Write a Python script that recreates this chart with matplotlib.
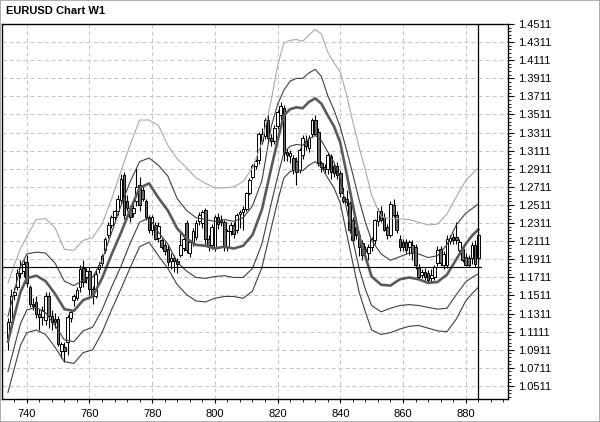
import matplotlib
matplotlib.use("Agg")
import matplotlib.pyplot as plt
from matplotlib.patches import Rectangle
from matplotlib.ticker import FixedLocator, AutoMinorLocator

plt.rcParams['font.family'] = ['Liberation Sans', 'DejaVu Sans']

# weekly EURUSD candles, bars 734..884
first_bar = 734
opens = [1.104, 1.122, 1.152, 1.160, 1.176, 1.178, 1.188, 1.160, 1.142, 1.144,
         1.131, 1.127, 1.124, 1.150, 1.128, 1.125, 1.125, 1.090, 1.094, 1.100,
         1.126, 1.146, 1.148, 1.160, 1.182, 1.172, 1.178, 1.158, 1.150, 1.180,
         1.187, 1.201, 1.218, 1.229, 1.238, 1.244, 1.257, 1.284, 1.255, 1.248,
         1.242, 1.256, 1.273, 1.268, 1.255, 1.238, 1.224, 1.229, 1.215, 1.212,
         1.207, 1.202, 1.189, 1.193, 1.189, 1.196, 1.204, 1.231, 1.198, 1.210,
         1.216, 1.233, 1.231, 1.246, 1.213, 1.207, 1.205, 1.238, 1.235, 1.232,
         1.205, 1.222, 1.229, 1.223, 1.241, 1.243, 1.247, 1.264, 1.282, 1.294,
         1.301, 1.322, 1.327, 1.345, 1.325, 1.322, 1.338, 1.350, 1.358, 1.310,
         1.305, 1.303, 1.300, 1.290, 1.306, 1.322, 1.314, 1.330, 1.345, 1.332,
         1.297, 1.293, 1.291, 1.305, 1.294, 1.294, 1.286, 1.260, 1.258, 1.253,
         1.234, 1.227, 1.218, 1.209, 1.203, 1.198, 1.205, 1.212, 1.233, 1.245,
         1.238, 1.227, 1.218, 1.251, 1.240, 1.214, 1.210, 1.210, 1.205, 1.207,
         1.205, 1.181, 1.174, 1.177, 1.176, 1.170, 1.172, 1.187, 1.203, 1.185,
         1.185, 1.211, 1.216, 1.216, 1.201, 1.203, 1.194, 1.192, 1.192, 1.207,
         1.192]
highs = [1.126, 1.158, 1.160, 1.180, 1.190, 1.190, 1.196, 1.163, 1.148, 1.150,
         1.136, 1.140, 1.155, 1.155, 1.135, 1.132, 1.128, 1.100, 1.100, 1.130,
         1.136, 1.153, 1.160, 1.185, 1.190, 1.182, 1.183, 1.162, 1.180, 1.188,
         1.197, 1.216, 1.232, 1.240, 1.246, 1.262, 1.285, 1.288, 1.262, 1.250,
         1.252, 1.292, 1.282, 1.272, 1.258, 1.240, 1.240, 1.232, 1.232, 1.215,
         1.210, 1.207, 1.198, 1.196, 1.192, 1.220, 1.218, 1.234, 1.212, 1.226,
         1.234, 1.243, 1.246, 1.248, 1.218, 1.230, 1.240, 1.242, 1.240, 1.234,
         1.225, 1.232, 1.232, 1.242, 1.246, 1.250, 1.266, 1.281, 1.296, 1.302,
         1.332, 1.336, 1.347, 1.350, 1.330, 1.340, 1.356, 1.365, 1.362, 1.313,
         1.312, 1.306, 1.304, 1.314, 1.328, 1.328, 1.328, 1.347, 1.350, 1.336,
         1.300, 1.296, 1.308, 1.307, 1.296, 1.299, 1.290, 1.271, 1.268, 1.256,
         1.238, 1.232, 1.222, 1.212, 1.206, 1.208, 1.216, 1.236, 1.248, 1.250,
         1.242, 1.230, 1.256, 1.258, 1.244, 1.218, 1.213, 1.214, 1.212, 1.212,
         1.208, 1.186, 1.180, 1.182, 1.179, 1.180, 1.185, 1.206, 1.206, 1.200,
         1.218, 1.218, 1.220, 1.232, 1.214, 1.206, 1.198, 1.196, 1.210, 1.212,
         1.221]
lows = [1.091, 1.118, 1.146, 1.157, 1.170, 1.172, 1.160, 1.138, 1.135, 1.126,
        1.113, 1.118, 1.118, 1.115, 1.113, 1.115, 1.095, 1.082, 1.078, 1.085,
        1.122, 1.140, 1.146, 1.155, 1.160, 1.165, 1.152, 1.142, 1.148, 1.176,
        1.184, 1.198, 1.215, 1.226, 1.234, 1.240, 1.252, 1.236, 1.245, 1.232,
        1.238, 1.250, 1.245, 1.255, 1.235, 1.220, 1.218, 1.212, 1.210, 1.203,
        1.196, 1.184, 1.180, 1.177, 1.176, 1.194, 1.200, 1.198, 1.194, 1.206,
        1.212, 1.229, 1.226, 1.208, 1.200, 1.203, 1.200, 1.225, 1.228, 1.200,
        1.200, 1.218, 1.215, 1.220, 1.226, 1.224, 1.245, 1.262, 1.280, 1.291,
        1.296, 1.318, 1.324, 1.320, 1.316, 1.318, 1.335, 1.345, 1.300, 1.300,
        1.298, 1.285, 1.273, 1.286, 1.302, 1.312, 1.310, 1.326, 1.328, 1.294,
        1.288, 1.286, 1.285, 1.280, 1.282, 1.280, 1.260, 1.253, 1.250, 1.220,
        1.208, 1.214, 1.195, 1.190, 1.192, 1.190, 1.200, 1.208, 1.228, 1.232,
        1.222, 1.214, 1.216, 1.238, 1.220, 1.200, 1.200, 1.198, 1.196, 1.190,
        1.180, 1.168, 1.170, 1.168, 1.165, 1.166, 1.168, 1.184, 1.184, 1.180,
        1.182, 1.208, 1.208, 1.208, 1.198, 1.188, 1.184, 1.183, 1.186, 1.183,
        1.188]
closes = [1.122, 1.150, 1.155, 1.176, 1.183, 1.186, 1.165, 1.142, 1.140, 1.131,
          1.127, 1.135, 1.150, 1.128, 1.122, 1.122, 1.098, 1.098, 1.090, 1.127,
          1.133, 1.150, 1.157, 1.180, 1.166, 1.178, 1.158, 1.150, 1.175, 1.185,
          1.195, 1.214, 1.229, 1.238, 1.244, 1.258, 1.280, 1.240, 1.248, 1.238,
          1.248, 1.271, 1.251, 1.258, 1.238, 1.224, 1.238, 1.214, 1.228, 1.205,
          1.200, 1.188, 1.193, 1.189, 1.186, 1.207, 1.214, 1.201, 1.210, 1.222,
          1.231, 1.240, 1.243, 1.213, 1.206, 1.227, 1.238, 1.230, 1.232, 1.205,
          1.222, 1.229, 1.219, 1.240, 1.243, 1.247, 1.264, 1.279, 1.294, 1.300,
          1.330, 1.330, 1.345, 1.325, 1.322, 1.336, 1.354, 1.361, 1.308, 1.306,
          1.309, 1.290, 1.288, 1.312, 1.325, 1.316, 1.325, 1.345, 1.330, 1.297,
          1.293, 1.291, 1.306, 1.288, 1.286, 1.284, 1.264, 1.255, 1.254, 1.223,
          1.212, 1.218, 1.205, 1.196, 1.200, 1.205, 1.214, 1.234, 1.245, 1.235,
          1.224, 1.218, 1.252, 1.240, 1.223, 1.205, 1.205, 1.201, 1.210, 1.198,
          1.185, 1.172, 1.177, 1.172, 1.168, 1.174, 1.183, 1.201, 1.187, 1.197,
          1.214, 1.215, 1.212, 1.212, 1.210, 1.190, 1.185, 1.185, 1.207, 1.186,
          1.218]
bars = list(range(first_bar, first_bar + len(closes)))

# moving average and envelope lines, read at these bars
band_bars = [734, 736, 738, 740, 743, 746, 749, 752, 755, 758, 761, 764, 767, 770,
             773, 776, 779, 782, 785, 788, 791, 794, 797, 800, 803, 806, 809, 812,
             815, 818, 820, 822, 824, 826, 828, 830, 832, 834, 836, 838, 840, 842,
             844, 846, 848, 850, 853, 856, 859, 862, 865, 868, 871, 874, 877, 880,
             882, 884]
ma = [1.100, 1.128, 1.155, 1.170, 1.173, 1.167, 1.153, 1.136, 1.134, 1.146, 1.150,
      1.170, 1.196, 1.220, 1.246, 1.270, 1.275, 1.259, 1.245, 1.225, 1.214, 1.207,
      1.206, 1.203, 1.205, 1.203, 1.206, 1.218, 1.246, 1.292, 1.322, 1.350, 1.357,
      1.359, 1.358, 1.365, 1.369, 1.363, 1.350, 1.338, 1.320, 1.286, 1.251, 1.217,
      1.194, 1.172, 1.163, 1.162, 1.169, 1.171, 1.169, 1.165, 1.166, 1.174, 1.191,
      1.208, 1.217, 1.224]
upper_outer = [1.165, 1.185, 1.203, 1.216, 1.235, 1.236, 1.226, 1.202, 1.201, 1.212,
               1.215, 1.230, 1.257, 1.288, 1.318, 1.345, 1.345, 1.339, 1.317, 1.302,
               1.292, 1.281, 1.275, 1.270, 1.270, 1.271, 1.277, 1.292, 1.320, 1.367,
               1.405, 1.430, 1.433, 1.434, 1.432, 1.439, 1.445, 1.440, 1.420, 1.408,
               1.398, 1.373, 1.343, 1.315, 1.290, 1.262, 1.238, 1.236, 1.236, 1.235,
               1.232, 1.229, 1.230, 1.241, 1.260, 1.278, 1.285, 1.292]
upper_inner = [1.128, 1.155, 1.183, 1.197, 1.199, 1.198, 1.187, 1.167, 1.162, 1.168,
               1.171, 1.190, 1.220, 1.250, 1.277, 1.299, 1.303, 1.295, 1.283, 1.258,
               1.245, 1.237, 1.235, 1.233, 1.235, 1.233, 1.237, 1.250, 1.278, 1.338,
               1.362, 1.378, 1.388, 1.391, 1.391, 1.397, 1.401, 1.393, 1.372, 1.356,
               1.337, 1.312, 1.285, 1.257, 1.232, 1.212, 1.197, 1.190, 1.194, 1.198,
               1.197, 1.193, 1.195, 1.207, 1.229, 1.242, 1.247, 1.252]
lower_inner = [1.067, 1.094, 1.120, 1.135, 1.138, 1.132, 1.118, 1.102, 1.100, 1.112,
               1.116, 1.135, 1.160, 1.183, 1.209, 1.232, 1.237, 1.221, 1.208, 1.188,
               1.178, 1.171, 1.170, 1.172, 1.173, 1.171, 1.171, 1.181, 1.208, 1.253,
               1.282, 1.309, 1.316, 1.318, 1.317, 1.324, 1.328, 1.322, 1.310, 1.298,
               1.280, 1.247, 1.213, 1.181, 1.158, 1.140, 1.133, 1.137, 1.140, 1.141,
               1.140, 1.138, 1.136, 1.137, 1.152, 1.166, 1.171, 1.175]
lower_outer = [1.044, 1.070, 1.096, 1.110, 1.113, 1.108, 1.094, 1.078, 1.076, 1.088,
               1.091, 1.110, 1.135, 1.158, 1.182, 1.205, 1.210, 1.195, 1.181, 1.163,
               1.152, 1.145, 1.144, 1.148, 1.150, 1.150, 1.148, 1.156, 1.182, 1.226,
               1.255, 1.281, 1.288, 1.290, 1.289, 1.295, 1.299, 1.293, 1.281, 1.270,
               1.253, 1.220, 1.187, 1.155, 1.133, 1.113, 1.108, 1.110, 1.114, 1.117,
               1.118, 1.115, 1.112, 1.111, 1.125, 1.145, 1.153, 1.160]

bid_price = 1.1829
last_bar_line = 883.8

y_ticks = [1.0511, 1.0711, 1.0911, 1.1111, 1.1311, 1.1511, 1.1711, 1.1911, 1.2111,
           1.2311, 1.2511, 1.2711, 1.2911, 1.3111, 1.3311, 1.3511, 1.3711, 1.3911,
           1.4111, 1.4311, 1.4511]
x_ticks = [740, 760, 780, 800, 820, 840, 860, 880]

fig = plt.figure(figsize=(6, 4.22), dpi=100)
ax = fig.add_axes([2 / 600, 23 / 422, 506 / 600, 375 / 422])

# candles
body_low = [min(o, c) for o, c in zip(opens, closes)]
body_h = [max(abs(c - o), 0.0007) for o, c in zip(opens, closes)]
fills = ['white' if c >= o else '#6a6a6a' for o, c in zip(opens, closes)]
ax.vlines(bars, lows, highs, color='black', lw=0.8, zorder=3)
ax.bar(bars, body_h, bottom=body_low, width=0.84, color=fills,
       edgecolor='black', linewidth=0.7, zorder=4)

# envelope lines
ax.plot(band_bars, upper_outer, color='#a8a8a8', lw=0.8, zorder=5)
ax.plot(band_bars, upper_inner, color='#404040', lw=0.8, zorder=5)
ax.plot(band_bars, lower_inner, color='#404040', lw=0.8, zorder=5)
ax.plot(band_bars, lower_outer, color='#404040', lw=0.8, zorder=5)
ax.plot(band_bars, ma, color='#5a5a5a', lw=1.9, zorder=6)

ax.axhline(bid_price, xmin=0, xmax=0.947, color='black', lw=0.8, zorder=7)
ax.axvline(last_bar_line, color='black', lw=0.9, zorder=7)

ax.set_xlim(732.1, 893.5)
ax.set_ylim(1.0367, 1.4511)

ax.yaxis.tick_right()
ax.yaxis.set_major_locator(FixedLocator(y_ticks))
ax.yaxis.set_minor_locator(AutoMinorLocator(5))
ax.set_yticklabels(['%.4f' % v for v in y_ticks])
ax.xaxis.set_major_locator(FixedLocator(x_ticks))
ax.xaxis.set_minor_locator(AutoMinorLocator(5))
ax.set_xticklabels([str(v) for v in x_ticks])
ax.tick_params(axis='y', which='major', length=4, width=0.8, pad=3, labelsize=8)
ax.tick_params(axis='y', which='minor', length=2, width=0.6)
ax.tick_params(axis='x', which='major', length=3, width=0.8, pad=4, labelsize=8)
ax.tick_params(axis='x', which='minor', length=2, width=0.6)

ax.grid(True, which='major', color='#c4c4c4', linestyle=(0, (4, 3)), lw=0.72)
ax.set_axisbelow(True)
for s in ax.spines.values():
    s.set_color('black')
    s.set_linewidth(1.0)

fig.text(6 / 600, 1 - 11 / 422, 'EURUSD Chart W1', fontsize=8, fontweight='bold',
         va='center', ha='left')
fig.add_artist(Rectangle((0, 0), 1, 1, transform=fig.transFigure, fill=False,
                         edgecolor='#a0a0a0', lw=1.2))

fig.savefig('out.png', dpi=100)
